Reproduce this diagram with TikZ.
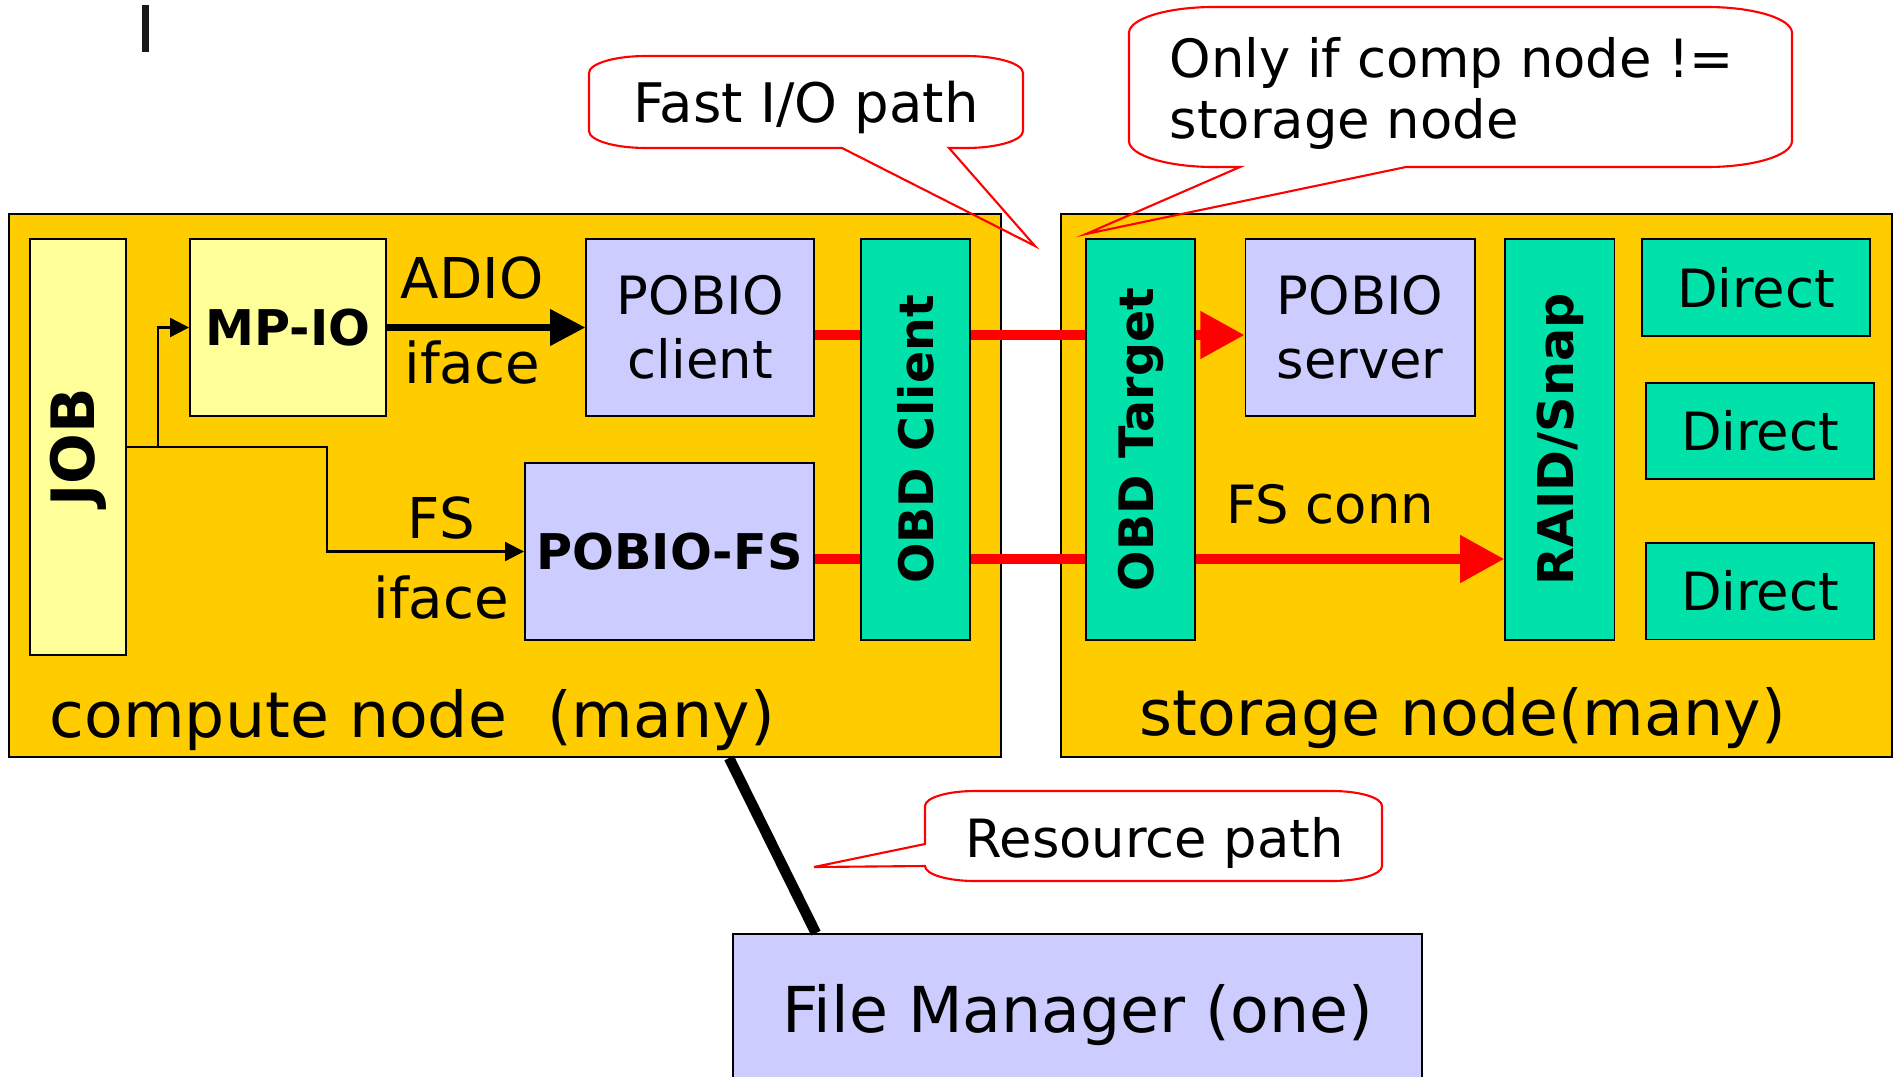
\documentclass[tikz,border=0pt]{standalone}
\usepackage{fontspec}
\setmainfont{DejaVu Sans}
\usepackage{graphicx}
\usetikzlibrary{arrows.meta}

\definecolor{hostyellow}{RGB}{255,204,0}
\definecolor{paleyellow}{RGB}{255,255,153}
\definecolor{lilac}{RGB}{204,204,255}
\definecolor{mint}{RGB}{0,226,170}

\begin{document}
\begin{tikzpicture}
    [
        x=0.01cm,
        y=-0.01cm,
        node box/.style={draw, line width=0.5pt, inner sep=0pt, align=center},
        host/.style={node box, fill=hostyellow, minimum height=5.43cm},
        job box/.style={node box, fill=paleyellow},
        pobio/.style={node box, fill=lilac, minimum height=1.77cm,
                      font=\fontsize{15pt}{18.2pt}\selectfont},
        obd/.style={node box, fill=mint, minimum width=1.09cm, minimum height=4.01cm,
                    font=\bfseries\fontsize{13.5pt}{16pt}\selectfont},
        direct/.style={node box, fill=mint, minimum width=2.28cm, minimum height=0.965cm,
                       font=\fontsize{15pt}{18pt}\selectfont},
        big label/.style={inner sep=0pt, font=\fontsize{18pt}{21pt}\selectfont},
        iface label/.style={inner sep=0pt, font=\fontsize{16pt}{19pt}\selectfont},
        note/.style={inner sep=0pt, font=\fontsize{15pt}{17.4pt}\selectfont},
        callout/.style={draw=red, line width=0.6pt},
        call/.style={-{Triangle[length=5.4pt, width=5.4pt]}, line width=0.6pt},
        adio call/.style={-{Triangle[length=10pt, width=10pt]}, line width=1.9pt},
        fast/.style={red, line width=3pt},
        fast end/.style={fast, -{Triangle[length=12.6pt, width=12.8pt]}},
        resource/.style={line width=3pt}
    ]
    \useasboundingbox (0,0) rectangle (1898,1076);
    \fill[black!90] (142,5) rectangle (149,52);

    % the two kinds of host
    \node (compute) [host, minimum width=9.92cm] at (505,485.5) {};
    \node (storage) [host, minimum width=8.31cm] at (1476.5,485.5) {};
    \node (compute lbl) [big label, anchor=base west] at (49,737) {compute node\ \ (many)};
    \node (storage lbl) [big label, anchor=base west] at (1139,735) {storage node(many)};

    % compute node side
    \node (job)
          [job box, minimum width=0.96cm, minimum height=4.16cm,
           font=\bfseries\fontsize{17pt}{20pt}\selectfont]
          at (78,447) {\rotatebox{90}{JOB}};
    \node (mpio)
          [job box, minimum width=1.96cm, minimum height=1.77cm,
           font=\bfseries\fontsize{14pt}{17pt}\selectfont]
          at (288,327.5) {MP-IO};
    \node (pclient)
          [pobio, right of=mpio, node distance=4.12cm, minimum width=2.28cm]
          {POBIO\\client};
    \node (pobiofs)
          [pobio, minimum width=2.89cm, font=\bfseries\fontsize{14pt}{17pt}\selectfont]
          at (669.5,551.5) {POBIO-FS};
    \node (obdc) [obd] at (915.5,439.5) {\rotatebox{90}{OBD Client}};

    % storage node side
    \node (obdt) [obd, right of=obdc, node distance=2.25cm] {\rotatebox{90}{OBD Target}};
    \node (pserver)
          [pobio, right of=pclient, node distance=6.595cm, minimum width=2.29cm]
          {POBIO\\server};
    \node (raid)
          [obd, right of=obdt, node distance=4.19cm, font=\bfseries\fontsize{14pt}{17pt}\selectfont]
          {\rotatebox{90}{RAID/Snap}};
    \node (direct 1) [direct] at (1756,287.5) {Direct};
    \node (direct 2) [direct] at (1760,431) {Direct};
    \node (direct 3) [direct, below of=direct 2, node distance=1.6cm] {Direct};

    \node (fm)
          [pobio, minimum width=6.89cm, minimum height=1.63cm,
           font=\fontsize{18pt}{21pt}\selectfont]
          at (1077.5,1015.5) {File Manager (one)};

    % calls out of the job
    \draw[call] (job.east) -- ++(31,0) |- (mpio.west);
    \draw[call] (job.east) -- ++(200,0)
          |- node[iface label, pos=0.79, above=3.1pt] {FS}
             node[iface label, pos=0.79, below=6.5pt] {iface} (pobiofs.west);
    \draw[adio call] (mpio)
          -- node[iface label, pos=0.43, above=7.1pt] {ADIO}
             node[iface label, pos=0.43, below=2.7pt] {iface} (pclient);

    % fast i/o
    \coordinate (fast y) at (0,335);
    \coordinate (fs y) at (0,559);
    \draw[fast] (pclient.east |- fast y) -- (obdc.west |- fast y);
    \draw[fast] (obdc.east |- fast y) -- (obdt.west |- fast y);
    \draw[fast end] (obdt.east |- fast y) -- (pserver.west |- fast y);
    \draw[fast] (pobiofs.east |- fs y) -- (obdc.west |- fs y);
    \draw[fast] (obdc.east |- fs y) -- (obdt.west |- fs y);
    \draw[fast end] (obdt.east |- fs y)
          -- node[pos=0.435, above=8.25pt, inner sep=0pt, text=black,
                  font=\fontsize{15pt}{18pt}\selectfont] {FS conn} (raid.west |- fs y);

    \draw[resource] ([xshift=2.24cm]compute.south) -- ([xshift=-2.615cm]fm.north);

    % callouts
    \coordinate (fast tip) at (1035,246);
    \coordinate (only tip) at (1086,234);
    \coordinate (resource tip) at (814,867);

    \draw[callout] (842,148) -- (646,148)
          arc[start angle=90, end angle=180, x radius=57, y radius=17] -- (589,73)
          arc[start angle=180, end angle=270, x radius=57, y radius=17] -- (966,56)
          arc[start angle=270, end angle=360, x radius=57, y radius=17] -- (1023,131)
          arc[start angle=0, end angle=90, x radius=57, y radius=17] -- (949,148)
          -- (fast tip) -- cycle;
    \node (fast note) [note, anchor=base, font=\fontsize{15.5pt}{18pt}\selectfont]
          at (806,123) {Fast I/O path};

    \draw[callout] (1240,167) -- (only tip) -- (1406,167) -- (1707,167)
          arc[start angle=90, end angle=0, x radius=85, y radius=26] -- (1792,33)
          arc[start angle=0, end angle=-90, x radius=85, y radius=26] -- (1214,7)
          arc[start angle=-90, end angle=-180, x radius=85, y radius=26] -- (1129,141)
          arc[start angle=180, end angle=90, x radius=85, y radius=26] -- cycle;
    \node (only note) [note, align=left, anchor=north west]
          at (1169,37) {Only if comp node !=\\storage node};

    \draw[callout] (925,866) -- (resource tip) -- (925,844) -- (925,806)
          arc[start angle=180, end angle=270, x radius=50, y radius=15] -- (1332,791)
          arc[start angle=270, end angle=360, x radius=50, y radius=15] -- (1382,866)
          arc[start angle=0, end angle=90, x radius=50, y radius=15] -- (975,881)
          arc[start angle=90, end angle=180, x radius=50, y radius=15] -- cycle;
    \node (resource note) [note, anchor=base] at (1154.5,857) {Resource path};
\end{tikzpicture}
\end{document}
